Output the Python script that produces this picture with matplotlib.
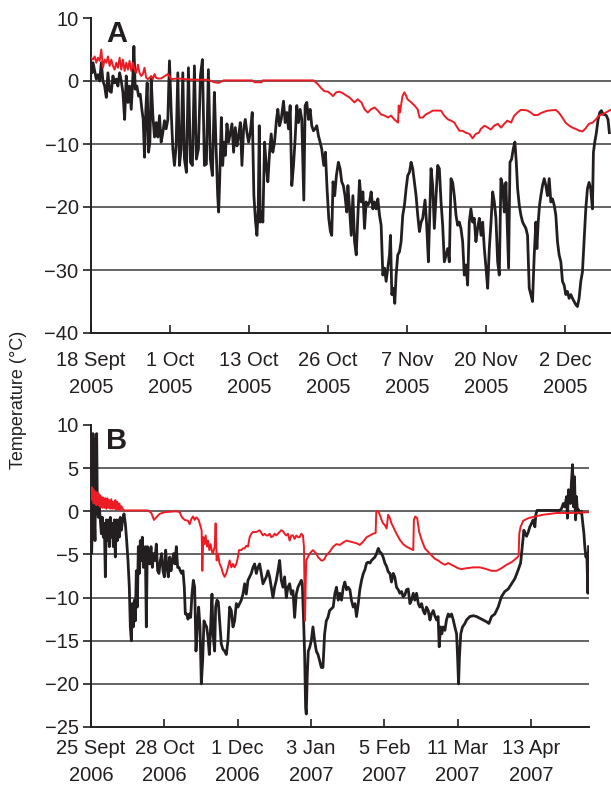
import numpy as np
import matplotlib.pyplot as plt

plt.rcParams['font.family'] = ['Liberation Sans', 'DejaVu Sans']

# panel A: days since 18 Sept 2005, temperature in deg C
a_black = [
    (0.0, 2.1), (0.16, 1.3), (0.32, 2.9), (0.58, 1.6), (0.84, 0.3), (1.1, 1.0), (1.37, 0.0), (1.63, 2.9),
    (1.89, 0.0), (2.16, -0.8), (2.42, -2.6), (2.68, 1.3), (2.95, -1.6), (3.21, -1.8), (3.47, 0.8), (3.74, -0.3),
    (4.0, 0.3), (4.26, -0.8), (4.53, 1.3), (4.79, 0.0), (5.05, -1.8), (5.32, -6.1), (5.58, 0.8), (5.84, -3.4),
    (6.1, -0.8), (6.37, -4.5), (6.63, 0.8), (6.79, 5.5), (7.0, -1.3), (7.26, -0.8), (7.53, -2.4), (7.79, -2.1),
    (8.05, -4.5), (8.26, -6.1), (8.47, -12.1), (8.68, -4.5), (8.89, -0.3), (9.1, -11.3), (9.32, -9.7), (9.53, 0.3),
    (9.79, -5.5), (10.05, -8.9), (10.32, -6.6), (10.58, -8.9), (10.84, -5.5), (11.1, -9.7), (11.37, -8.2),
    (11.63, -6.3), (11.89, -7.6), (12.16, -6.1), (12.42, 3.2), (12.68, -4.5), (12.95, -10.8), (13.21, -13.4),
    (13.47, -10.3), (13.74, 1.3), (14.0, -13.4), (14.26, -10.8), (14.53, 1.3), (14.79, -12.4), (15.1, -14.5),
    (15.42, 2.1), (15.74, -12.9), (16.05, -13.4), (16.37, 2.4), (16.68, -12.4), (17.0, -10.8), (17.32, 0.8),
    (17.63, 3.4), (17.95, -13.4), (18.26, -13.2), (18.58, 1.8), (18.89, -12.4), (19.21, -15.0), (19.53, -1.8),
    (19.74, -8.7), (20.05, -18.2), (20.2, -20.8), (20.36, -16.0), (20.63, -5.8), (20.84, -13.4), (21.05, -9.7),
    (21.26, -11.8), (21.52, -6.8), (21.78, -9.7), (22.05, -8.2), (22.31, -6.8), (22.57, -11.3), (22.84, -7.4),
    (23.1, -10.3), (23.36, -8.7), (23.63, -6.6), (23.89, -13.4), (24.15, -7.6), (24.42, -6.1), (24.68, -8.2),
    (24.94, -9.7), (25.21, -8.2), (25.52, -5.0), (25.78, -18.2), (26.05, -22.4), (26.26, -24.5), (26.47, -20.3),
    (26.63, -7.1), (26.78, -22.4), (26.99, -20.8), (27.2, -22.4), (27.47, -9.7), (27.73, -13.4), (27.99, -16.0),
    (28.26, -11.3), (28.52, -8.4), (28.78, -11.3), (29.05, -9.7), (29.36, -6.1), (29.57, -4.5), (29.84, -7.1),
    (30.1, -6.1), (30.47, -3.2), (30.73, -6.6), (31.0, -5.0), (31.26, -7.6), (31.52, -3.9), (31.78, -16.6),
    (32.05, -13.4), (32.31, -9.2), (32.57, -3.9), (32.84, -6.6), (33.1, -4.5), (33.36, -6.1), (33.68, -18.9),
    (33.89, -3.9), (34.15, -3.4), (34.42, -6.1), (34.68, -4.5), (34.94, -7.1), (35.21, -7.9), (35.47, -7.6),
    (35.73, -7.1), (36.0, -8.7), (36.26, -9.7), (36.52, -10.8), (36.84, -13.4), (37.1, -11.3), (37.36, -17.1),
    (37.63, -21.8), (37.89, -23.9), (38.1, -24.5), (38.31, -16.0), (38.57, -18.2), (38.84, -15.0), (39.15, -12.9),
    (39.42, -13.9), (39.68, -16.0), (39.94, -16.6), (40.2, -18.2), (40.47, -20.8), (40.66, -16.6), (40.92, -20.3),
    (41.19, -24.5), (41.45, -18.2), (41.71, -25.5), (41.98, -27.6), (42.24, -21.3), (42.5, -15.8), (42.77, -19.2),
    (43.03, -17.6), (43.29, -23.4), (43.55, -19.2), (43.82, -19.7), (44.08, -19.2), (44.34, -17.6), (44.61, -20.3),
    (44.87, -19.2), (45.13, -20.3), (45.4, -18.7), (45.66, -21.3), (45.92, -22.9), (46.19, -30.8), (46.45, -29.7),
    (46.71, -31.8), (46.98, -29.7), (47.24, -27.6), (47.4, -24.5), (47.61, -33.9), (47.87, -32.9), (48.08, -35.3),
    (48.29, -30.8), (48.55, -27.6), (48.82, -27.1), (49.08, -25.5), (49.34, -21.3), (49.61, -19.7), (49.87, -17.1),
    (50.13, -15.0), (50.4, -14.5), (50.66, -12.9), (50.92, -13.9), (51.19, -16.1), (51.45, -18.2), (51.71, -21.3),
    (51.98, -23.9), (52.24, -22.4), (52.5, -21.8), (52.87, -18.9), (53.13, -22.9), (53.4, -28.7), (53.61, -21.3),
    (53.82, -13.9), (54.08, -16.6), (54.34, -23.4), (54.61, -18.2), (54.87, -13.4), (55.13, -13.9), (55.4, -19.2),
    (55.66, -22.9), (55.92, -28.7), (56.19, -27.6), (56.45, -26.6), (56.71, -28.7), (56.98, -15.5), (57.24, -16.1),
    (57.5, -18.2), (57.77, -21.3), (58.03, -22.9), (58.29, -22.4), (58.55, -23.4), (58.82, -25.5), (59.08, -30.8),
    (59.34, -29.2), (59.61, -32.4), (59.87, -22.4), (60.13, -20.3), (60.4, -22.4), (60.66, -21.8), (60.92, -25.5),
    (61.19, -23.4), (61.46, -21.8), (61.73, -24.5), (61.99, -22.4), (62.25, -26.6), (62.52, -29.7), (62.78, -32.9),
    (63.04, -26.6), (63.31, -22.4), (63.57, -17.6), (63.83, -19.2), (64.09, -21.8), (64.36, -28.7), (64.62, -30.8),
    (64.88, -15.5), (65.15, -16.6), (65.41, -20.8), (65.67, -16.1), (65.94, -24.5), (66.09, -29.7), (66.31, -12.9),
    (66.57, -12.4), (66.83, -10.8), (67.09, -9.7), (67.31, -12.9), (67.52, -17.1), (67.78, -19.7), (68.04, -21.3),
    (68.31, -22.4), (68.57, -22.9), (68.83, -23.4), (69.09, -24.5), (69.36, -32.9), (69.62, -33.9), (69.88, -35.0),
    (70.15, -27.6), (70.41, -22.4), (70.57, -26.6), (70.78, -22.4), (70.99, -19.7), (71.2, -18.2), (71.46, -16.6),
    (71.73, -15.5), (71.99, -16.6), (72.25, -18.2), (72.52, -15.5), (72.78, -19.2), (73.04, -18.7), (73.31, -19.7),
    (73.57, -21.3), (73.83, -25.5), (74.09, -27.6), (74.36, -28.7), (74.62, -31.8), (74.88, -32.4), (75.15, -33.9),
    (75.41, -33.4), (75.67, -34.5), (75.94, -33.9), (76.2, -34.5), (76.46, -35.0), (76.73, -35.5), (76.99, -35.8),
    (77.25, -34.5), (77.52, -31.8), (77.78, -30.3), (78.04, -25.5), (78.31, -20.3), (78.57, -17.1), (78.83, -16.1),
    (79.09, -17.1), (79.36, -20.3), (79.52, -11.3), (79.73, -9.7), (79.99, -8.2), (80.25, -6.1), (80.52, -5.0),
    (80.78, -4.7), (81.04, -5.3), (81.3, -5.3), (81.57, -5.5), (81.83, -6.1), (82.04, -8.2),
]

a_red = [
    (0.0, 3.7), (0.32, 3.4), (0.58, 3.9), (0.84, 2.9), (1.1, 3.7), (1.37, 3.2), (1.63, 5.0), (1.89, 2.1),
    (2.16, 3.4), (2.42, 2.9), (2.68, 3.9), (2.95, 2.4), (3.21, 3.4), (3.47, 2.4), (3.74, 1.8), (4.0, 2.9),
    (4.26, 2.1), (4.53, 3.7), (4.79, 1.8), (5.05, 3.4), (5.32, 1.6), (5.58, 2.9), (5.84, 1.8), (6.1, 3.2),
    (6.37, 1.6), (6.63, 2.9), (6.89, 1.8), (7.16, 1.3), (7.42, 2.6), (7.68, 1.3), (7.95, 0.8), (8.21, 1.1),
    (8.47, 2.1), (8.74, 0.5), (9.0, 0.3), (9.26, 0.5), (9.53, 0.8), (9.79, 0.3), (10.05, 1.1), (10.32, 0.5),
    (10.58, 0.4), (11.1, 0.4), (12.16, 1.1), (12.42, 0.8), (12.68, 0.3), (13.74, 0.4), (14.79, 0.3),
    (16.37, 0.2), (18.47, 0.2), (19.53, -0.2), (20.21, -0.3), (21.0, 0.1), (25.5, 0.1), (25.9, -0.2),
    (27.0, -0.2), (27.2, 0.1), (35.2, 0.1), (35.9, -0.5), (36.4, -1.1), (36.9, -1.6), (37.5, -1.7), (38.0, -2.1),
    (38.3, -2.4), (38.8, -1.8), (39.3, -1.7), (39.8, -1.9), (40.4, -2.3), (40.9, -2.6), (41.2, -2.9), (41.7, -3.4),
    (42.2, -2.9), (42.8, -3.4), (43.3, -4.5), (43.8, -5.0), (44.3, -4.5), (44.9, -4.2), (45.4, -4.7), (45.9, -5.3),
    (46.5, -5.5), (47.0, -5.8), (47.5, -5.5), (48.0, -6.1), (48.6, -6.6), (48.7, -3.9), (48.9, -5.0), (49.1, -3.7),
    (49.3, -2.4), (49.6, -1.8), (49.9, -2.4), (50.1, -2.9), (50.7, -3.4), (51.2, -3.9), (51.7, -4.5), (52.0, -5.8),
    (52.5, -5.8), (53.0, -5.3), (53.6, -5.0), (54.1, -4.7), (55.4, -4.7), (55.9, -5.5), (56.5, -6.1), (57.0, -6.3),
    (57.5, -6.6), (57.8, -7.1), (58.3, -7.9), (58.8, -7.9), (59.3, -8.2), (59.9, -8.4), (60.4, -9.1), (60.9, -8.4),
    (61.4, -8.2), (61.7, -7.6), (62.3, -7.1), (62.8, -7.4), (63.3, -7.7), (63.8, -7.1), (64.4, -6.8), (64.9, -7.4),
    (65.4, -6.8), (65.9, -6.3), (66.5, -6.6), (66.7, -6.1), (67.0, -5.5), (67.5, -5.0), (68.0, -4.6), (68.6, -4.6),
    (69.1, -4.7), (69.6, -5.0), (70.1, -5.4), (70.7, -5.4), (71.2, -5.1), (71.7, -4.9), (72.3, -4.7), (73.6, -4.6),
    (74.1, -5.1), (74.6, -5.8), (75.1, -6.6), (75.7, -7.1), (76.2, -7.4), (76.7, -7.6), (77.3, -7.9), (77.8, -8.0),
    (78.3, -7.5), (78.8, -6.8), (79.4, -6.6), (79.9, -6.1), (80.4, -5.5), (80.9, -5.3), (81.5, -5.0), (82.2, -4.6),
]

# panel B: days since 25 Sept 2006
b_black = [
    (0.0, -3.8), (0.3, -4.9), (0.61, -1.0), (0.91, 9.0), (1.21, -2.2), (1.52, -0.7), (1.82, -3.4), (2.27, 8.3),
    (2.58, 9.0), (2.88, 0.5), (3.33, -0.7), (3.79, 0.5), (4.24, -1.0), (4.7, -2.6), (5.15, -0.7), (5.61, -3.0),
    (6.06, -1.4), (6.52, -7.6), (6.97, -1.0), (7.42, -3.4), (7.88, -1.0), (8.33, -4.1), (8.79, -0.7), (9.24, -3.0),
    (9.7, -1.4), (10.15, -4.1), (10.61, -1.0), (11.06, -5.3), (11.52, -1.0), (11.97, -3.4), (12.42, -1.0),
    (12.88, -3.0), (13.33, -0.7), (13.79, -2.2), (14.39, -1.0), (15.0, -0.3), (15.61, -1.4), (16.21, -3.4),
    (16.82, -5.7), (17.42, -8.8), (17.88, -13.4), (18.33, -15.0), (18.79, -10.7), (19.24, -13.4), (19.7, -10.3),
    (20.15, -12.7), (20.61, -6.9), (21.06, -11.1), (21.52, -4.1), (21.97, -7.2), (22.42, -3.4), (22.88, -5.7),
    (23.33, -3.0), (23.79, -6.5), (24.24, -4.9), (24.7, -4.1), (25.15, -13.4), (25.61, -4.1), (26.06, -4.9),
    (26.67, -6.1), (27.27, -4.1), (27.88, -6.5), (28.48, -4.9), (29.09, -5.7), (29.7, -3.8), (30.3, -6.9),
    (30.91, -7.2), (31.52, -5.7), (32.12, -4.9), (32.73, -6.9), (33.33, -7.6), (33.94, -4.5), (34.55, -6.5),
    (35.15, -7.6), (35.76, -5.3), (36.36, -6.9), (36.97, -5.7), (37.58, -4.9), (38.18, -6.1), (38.79, -4.1),
    (39.39, -6.5), (40.0, -6.5), (40.61, -6.9), (41.21, -7.2), (41.82, -6.9), (42.42, -8.8), (42.88, -11.9),
    (43.48, -11.9), (44.09, -12.5), (44.7, -11.9), (45.3, -12.3), (45.91, -9.6), (46.52, -8.0), (47.12, -8.8),
    (47.73, -16.2), (48.33, -13.4), (48.94, -11.1), (49.55, -13.4), (50.15, -20.0), (50.76, -17.3), (51.36, -12.7),
    (51.97, -13.1), (52.58, -13.4), (53.18, -14.6), (53.79, -16.6), (54.39, -13.4), (55.0, -9.6), (55.45, -14.2),
    (56.21, -16.2), (56.66, -11.1), (57.27, -10.3), (57.87, -10.5), (58.48, -12.7), (59.24, -15.4), (59.99, -16.0),
    (60.75, -16.2), (61.51, -16.6), (62.27, -15.0), (63.03, -11.1), (63.78, -11.5), (64.54, -13.4), (65.3, -12.7),
    (66.06, -10.7), (66.81, -11.1), (67.57, -10.7), (68.33, -10.3), (69.09, -9.6), (69.84, -8.4), (70.6, -9.6),
    (71.36, -8.0), (72.12, -7.6), (72.87, -7.2), (73.63, -6.5), (74.39, -6.1), (75.15, -7.2), (75.9, -6.5),
    (76.66, -6.1), (77.42, -7.2), (78.18, -8.4), (78.93, -8.0), (79.69, -7.6), (80.45, -6.9), (81.21, -7.6),
    (81.96, -8.8), (82.72, -10.0), (83.48, -8.8), (84.24, -8.0), (84.99, -6.9), (85.75, -5.7), (86.51, -8.0),
    (87.27, -8.8), (88.02, -7.6), (88.78, -10.0), (89.54, -8.8), (90.3, -8.4), (91.06, -9.6), (91.81, -9.2),
    (92.57, -12.3), (93.33, -9.6), (94.09, -8.8), (94.84, -8.4), (95.6, -8.0), (96.06, -8.4), (96.66, -12.7),
    (97.12, -16.6), (97.57, -22.8), (97.87, -23.5), (98.33, -18.9), (98.78, -16.2), (99.39, -15.8), (100.15, -15.0),
    (100.9, -13.4), (101.66, -15.0), (102.42, -16.2), (103.18, -16.6), (103.93, -17.3), (104.69, -18.1),
    (105.45, -18.1), (106.21, -14.2), (106.96, -12.7), (107.72, -12.3), (108.48, -11.5), (110.1, -11.1),
    (110.9, -9.5), (111.6, -8.8), (112.4, -10.3), (113.1, -9.5), (113.9, -10.3), (114.7, -8.8), (115.4, -8.2),
    (116.2, -9.1), (116.9, -8.8), (117.7, -9.1), (118.4, -10.3), (119.2, -11.1), (120.0, -10.7), (120.7, -12.2),
    (121.5, -10.7), (122.2, -9.1), (123.0, -8.0), (123.8, -7.2), (124.5, -6.8), (125.3, -6.0), (126.0, -5.9),
    (126.8, -6.0), (127.5, -5.7), (128.3, -5.5), (129.1, -5.3), (129.8, -4.9), (130.6, -4.3), (131.3, -4.7),
    (132.1, -4.9), (132.8, -5.3), (133.6, -6.0), (134.4, -6.4), (135.1, -7.0), (135.9, -7.2), (136.6, -8.2),
    (137.4, -7.2), (138.1, -7.6), (138.9, -8.8), (139.7, -9.1), (140.4, -9.5), (141.2, -9.3), (141.9, -9.9),
    (142.7, -9.7), (143.4, -9.1), (144.2, -9.0), (145.0, -10.7), (145.7, -10.3), (146.5, -9.5), (147.2, -10.3),
    (148.0, -9.5), (148.8, -10.7), (149.5, -11.1), (150.3, -10.7), (151.0, -11.5), (151.8, -11.9), (152.5, -11.1),
    (153.3, -11.5), (154.1, -12.6), (154.8, -11.9), (155.6, -11.5), (156.3, -12.1), (157.1, -12.6), (157.8, -12.2),
    (158.3, -15.7), (158.9, -13.4), (159.5, -14.2), (160.1, -13.4), (160.9, -13.8), (161.6, -12.6), (162.4, -11.9),
    (163.1, -12.2), (163.9, -11.9), (164.7, -12.6), (165.4, -13.4), (166.2, -14.2), (166.6, -16.5), (167.1, -20.0),
    (167.5, -16.9), (168.1, -14.2), (168.9, -13.4), (170.0, -13.0), (170.7, -12.6), (172.2, -12.2), (173.8, -12.1),
    (175.3, -12.2), (176.8, -12.4), (178.3, -12.6), (179.8, -12.8), (180.9, -13.0), (182.1, -12.2), (183.6, -11.9),
    (185.1, -11.1), (186.6, -9.9), (188.1, -9.3), (189.7, -9.0), (191.2, -8.4), (192.7, -7.8), (194.2, -6.8),
    (195.3, -6.0), (196.2, -3.7), (196.8, -2.2), (197.4, -2.6), (198.0, -2.9), (198.8, -2.4), (199.5, -1.8),
    (200.3, -1.4), (201.0, -1.0), (201.8, -1.8), (202.2, -0.4), (202.8, 0.1), (204.8, 0.1), (208.6, 0.1),
    (213.1, 0.1), (213.9, 0.3), (214.7, 0.9), (215.4, 0.5), (216.2, 1.7), (216.6, -0.8), (217.1, 2.5),
    (217.5, 1.3), (218.0, 0.9), (218.4, 3.3), (218.9, 5.4), (219.4, 0.5), (219.8, 4.0), (220.3, -1.0),
    (220.7, 1.7), (221.2, -0.2), (221.6, 0.2), (222.2, -0.2), (223.0, 0.0), (223.4, -1.0), (224.1, -2.6),
    (224.5, -4.1), (225.0, -5.3), (225.4, -4.9), (225.9, -9.5), (226.2, -4.1),
]

b_red = [
    (0.0, 1.7), (0.3, 2.8), (0.61, 1.3), (0.91, 2.6), (1.21, 0.9), (1.52, 2.4), (1.82, 1.1), (2.12, 2.2),
    (2.42, 0.7), (2.73, 2.2), (3.03, 0.9), (3.33, 2.1), (3.64, 0.7), (3.94, 1.9), (4.24, 0.5), (4.7, 1.7),
    (5.15, 0.4), (5.61, 1.6), (6.06, 0.4), (6.52, 1.5), (6.97, 0.3), (7.42, 1.5), (7.88, 0.4), (8.33, 1.3),
    (8.79, 0.3), (9.24, 1.4), (9.7, 0.3), (10.15, 1.1), (10.61, 0.3), (11.06, 1.3), (11.52, 0.2), (11.97, 1.1),
    (12.42, 0.2), (12.88, 0.9), (13.33, 0.1), (13.79, 0.6), (14.55, 0.2), (15.3, 0.1), (25.91, 0.1),
    (27.42, -0.2), (28.64, -1.0), (29.7, -0.7), (31.21, -0.3), (33.48, -0.1), (38.79, 0.0), (40.3, -0.1),
    (41.36, -0.7), (42.58, -1.0), (44.09, -1.1), (44.85, -1.5), (45.61, -0.9), (46.36, -0.6), (47.12, -1.0),
    (47.88, -0.7), (48.94, -1.0), (49.85, -1.8), (50.3, -2.2), (50.61, -6.9), (51.06, -3.0), (51.67, -3.8),
    (52.12, -2.8), (52.73, -4.1), (53.18, -3.4), (53.79, -4.5), (54.39, -3.8), (55.0, -4.7), (55.45, -4.9),
    (56.21, -4.1), (56.66, -1.4), (57.12, -5.7), (57.72, -4.9), (58.48, -6.1), (59.24, -6.5), (59.99, -7.2),
    (60.75, -7.6), (61.51, -7.2), (62.27, -6.5), (63.03, -5.7), (63.78, -6.5), (64.54, -6.1), (65.3, -6.5),
    (66.06, -6.1), (66.81, -5.3), (67.27, -4.5), (68.33, -4.5), (69.09, -4.3), (69.84, -4.3), (70.6, -4.0),
    (71.36, -4.1), (72.12, -3.0), (72.87, -2.6), (73.63, -2.4), (75.15, -2.4), (76.66, -2.2), (77.42, -2.5),
    (78.18, -2.8), (78.93, -2.6), (79.69, -2.8), (80.45, -2.8), (81.21, -2.6), (81.96, -3.0), (82.72, -2.9),
    (83.48, -2.6), (84.24, -2.8), (84.99, -2.6), (85.75, -2.4), (86.51, -2.2), (87.27, -2.3), (88.02, -2.6),
    (88.78, -2.8), (89.54, -2.6), (90.3, -3.4), (91.06, -2.8), (91.81, -2.8), (92.57, -3.2), (93.33, -2.8),
    (94.09, -3.0), (94.84, -3.0), (95.6, -2.6), (96.36, -2.8), (96.81, -4.1), (97.27, -12.7), (97.57, -8.8),
    (97.87, -5.7), (98.63, -5.3), (99.39, -4.9), (100.15, -4.7), (100.9, -4.5), (101.66, -4.7), (102.42, -4.9),
    (103.18, -5.3), (103.93, -5.5), (104.69, -5.7), (105.45, -5.7), (106.21, -5.5), (106.96, -5.1),
    (107.72, -4.9), (108.48, -4.7), (110.1, -4.1), (111.6, -3.8), (113.1, -3.9), (114.7, -3.6), (116.2, -3.4),
    (117.7, -3.5), (119.2, -3.6), (120.7, -3.7), (122.2, -3.9), (123.8, -3.5), (125.3, -3.0), (126.8, -2.8),
    (128.3, -2.6), (129.4, -2.5), (129.7, 0.0), (130.6, 0.0), (131.3, -0.4), (132.1, -1.0), (132.8, -1.4),
    (133.6, -1.6), (134.4, -2.0), (135.1, -0.4), (135.9, -0.8), (136.6, -1.4), (137.4, -1.8), (138.1, -2.2),
    (138.9, -2.6), (140.4, -3.3), (141.9, -3.8), (143.4, -4.1), (145.0, -4.3), (146.5, -4.5), (146.8, -1.0),
    (147.4, -0.6), (148.3, -0.8), (149.2, -2.4), (150.3, -3.3), (151.8, -4.3), (153.3, -4.7), (154.8, -5.1),
    (156.3, -5.5), (157.8, -5.7), (159.4, -6.0), (160.9, -6.2), (162.4, -6.0), (163.9, -6.2), (165.4, -6.4),
    (166.9, -6.6), (168.4, -6.7), (170.7, -6.6), (173.8, -6.5), (176.8, -6.5), (179.8, -6.7), (182.1, -6.9),
    (184.4, -6.9), (186.6, -6.6), (188.9, -6.2), (191.2, -5.9), (193.1, -5.5), (194.4, -5.2), (194.7, -2.6),
    (195.3, -1.8), (196.5, -1.1), (198.8, -0.8), (201.8, -0.6), (205.6, -0.4), (211.6, -0.2), (217.7, -0.2),
    (226.2, -0.1),
]

a_ticklabels = ['18 Sept\n2005', '1 Oct\n2005', '13 Oct\n2005', '26 Oct\n2005',
                '7 Nov\n2005', '20 Nov\n2005', '2 Dec\n2005']
b_ticklabels = ['25 Sept\n2006', '28 Oct\n2006', '1 Dec\n2006', '3 Jan\n2007',
                '5 Feb\n2007', '11 Mar\n2007', '13 Apr\n2007']

BLACK = '#231f20'
RED = '#ed1c24'

fig = plt.figure(figsize=(6.11, 7.89), dpi=100)
axA = fig.add_axes([91/611, 1 - 333/789, 520/611, 315/789])
axB = fig.add_axes([91/611, 1 - 727/789, 498/611, 302/789])


def style(ax, yticks, xstep, xmax, labels, letter, xpad):
    for y in yticks[1:-1]:
        ax.axhline(y, color='#3a3a3a', lw=1.1, zorder=1)
    ax.set_ylim(yticks[-1], yticks[0])
    ax.set_yticks(yticks)
    ax.set_xlim(0, xmax)
    ax.set_xticks(np.arange(len(labels)) * xstep)
    ax.set_xticklabels(labels, linespacing=1.5)
    for s in ['top', 'right']:
        ax.spines[s].set_visible(False)
    for s in ['left', 'bottom']:
        ax.spines[s].set_linewidth(1.4)
        ax.spines[s].set_color(BLACK)
    ax.tick_params(axis='x', direction='in', length=6, width=1.2, pad=xpad,
                   labelsize=14.5, colors=BLACK)
    ax.tick_params(axis='y', direction='out', length=6, width=1.2, pad=3,
                   labelsize=14.5, colors=BLACK)
    ax.text(0.03, 0.995, letter, transform=ax.transAxes, fontsize=21,
            fontweight='bold', va='top', ha='left', color=BLACK)


for ax, blk, red in [(axA, a_black, a_red), (axB, b_black, b_red)]:
    bd, bt = np.array(blk).T
    rd, rt = np.array(red).T
    ax.plot(bd, bt, color=BLACK, lw=2.0, zorder=3)
    ax.plot(rd, rt, color=RED, lw=1.4, zorder=4)

style(axA, [10, 0, -10, -20, -30, -40], 12.5, 82.3, a_ticklabels, 'A', 13)
style(axB, [10, 5, 0, -5, -10, -15, -20, -25], 100 / 3, 226.4, b_ticklabels, 'B', 9)

fig.text(0.03, 0.493, 'Temperature (°C)', rotation=90, va='center', ha='center',
         fontsize=13, color=BLACK)

fig.savefig('out.png', dpi=100)
